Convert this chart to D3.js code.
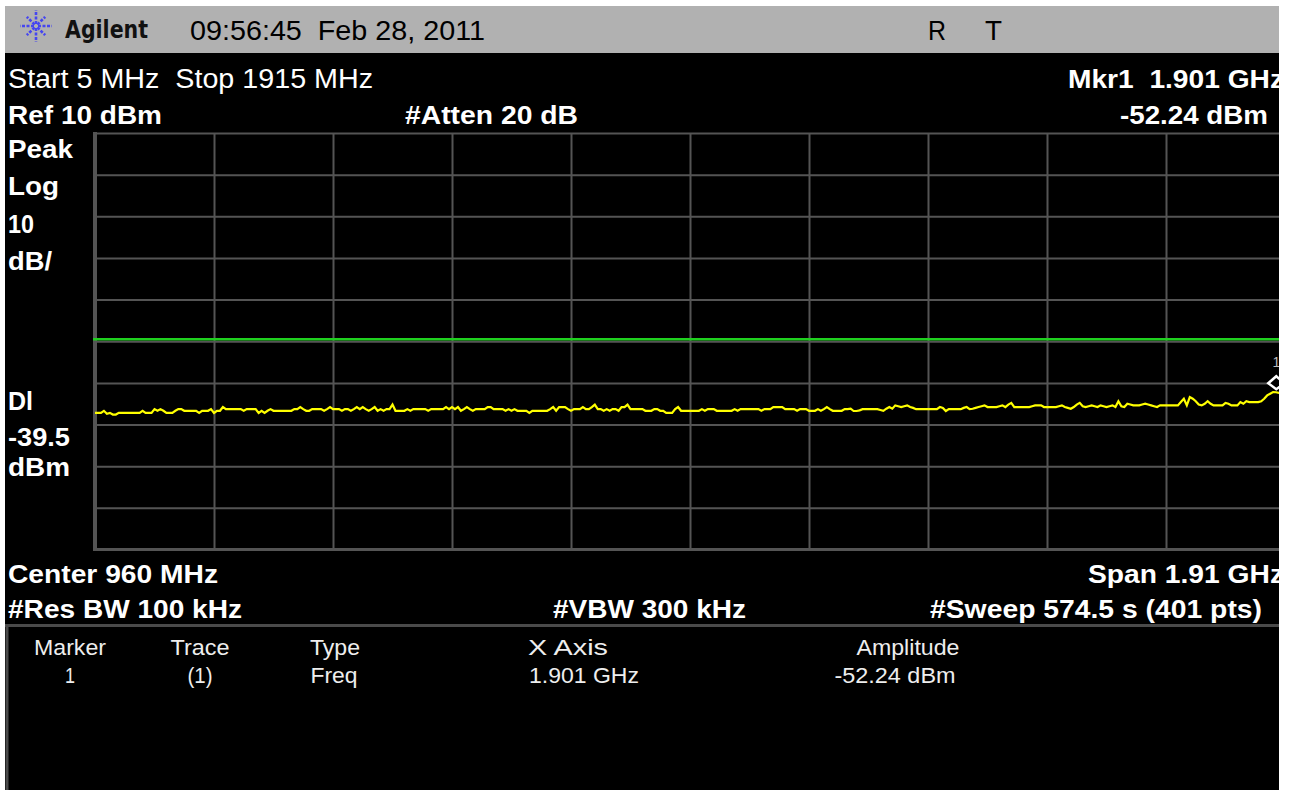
<!DOCTYPE html>
<html>
<head>
<meta charset="utf-8">
<script src="https://cdn.jsdelivr.net/npm/d3@7"></script>
<style>
  html, body { margin: 0; padding: 0; background: #ffffff; }
  svg { display: block; }
  text { white-space: pre; }
</style>
</head>
<body>
<svg id="chart" width="1289" height="790"></svg>
<script>
// ---------------- data ----------------
const startMHz = 5;
const stopMHz = 1915;
const sweepPoints = 401;
const refLevelDbm = 10;
const dbPerDiv = 10;
const yDivisions = 10;
const xDivisions = 10;
const displayLineDbm = -39.5;
const markerFreqMHz = 1901;
const markerDbm = -52.24;

// trace amplitude (dBm) at each of the 401 sweep points
const traceDbm = [
  -57.2,-57.2,-57.2,-56.7,-57.4,-57.2,-57.6,-57.6,-57.2,-57.2,
  -57.2,-57.2,-57.2,-57.2,-57.2,-57.2,-56.7,-57.2,-57.2,-57.2,
  -56.3,-56.7,-56.3,-56.7,-57.2,-57.2,-57.2,-56.7,-56.3,-56.3,
  -56.7,-56.7,-56.7,-56.7,-56.7,-57.2,-56.7,-56.7,-56.7,-56.3,
  -57.2,-56.7,-56.7,-55.8,-56.3,-56.3,-56.3,-56.3,-56.3,-56.3,
  -56.7,-56.3,-56.3,-56.3,-56.3,-57.2,-56.7,-57.2,-56.7,-56.3,
  -56.7,-56.7,-56.7,-56.7,-56.7,-56.7,-56.7,-56.3,-56.3,-55.8,
  -56.3,-56.7,-56.7,-56.3,-56.3,-56.3,-56.3,-56.7,-56.3,-55.8,
  -56.3,-56.3,-56.3,-56.7,-56.3,-56.3,-56.7,-56.3,-55.8,-56.3,
  -55.8,-56.3,-56.7,-56.3,-55.8,-56.7,-56.3,-56.7,-56.3,-56.3,
  -55.2,-56.7,-56.7,-56.7,-56.7,-56.3,-56.7,-56.3,-56.3,-56.3,
  -56.3,-56.3,-56.7,-56.3,-56.3,-56.3,-56.3,-56.3,-55.8,-56.3,
  -55.8,-56.3,-55.8,-56.7,-56.3,-55.8,-56.3,-56.7,-56.3,-56.3,
  -56.3,-56.3,-55.8,-55.8,-56.3,-56.3,-56.3,-56.3,-56.7,-56.3,
  -56.7,-56.3,-56.7,-56.7,-56.7,-56.7,-57.2,-56.7,-56.7,-56.7,
  -56.7,-56.7,-56.7,-56.3,-55.8,-56.7,-55.8,-55.8,-55.8,-56.3,
  -56.7,-56.3,-56.3,-56.3,-55.8,-56.3,-56.3,-55.8,-55.2,-56.3,
  -56.3,-56.7,-56.3,-56.7,-56.3,-56.3,-56.7,-55.8,-55.8,-55.2,
  -56.3,-56.3,-56.3,-56.3,-56.3,-56.7,-56.7,-56.7,-56.3,-56.3,
  -56.7,-56.7,-57.2,-57.2,-57.2,-56.3,-55.8,-56.7,-56.7,-56.7,
  -56.7,-56.7,-56.7,-56.7,-56.3,-56.7,-56.3,-56.3,-56.3,-56.7,
  -56.7,-56.7,-56.7,-56.7,-56.7,-56.3,-56.7,-56.3,-56.3,-56.3,
  -56.3,-56.3,-56.3,-56.3,-56.7,-56.3,-56.3,-56.3,-55.8,-55.8,
  -55.8,-55.8,-56.3,-56.3,-56.3,-56.3,-56.7,-56.3,-56.3,-56.3,
  -56.7,-56.7,-56.7,-56.3,-56.7,-56.3,-55.8,-56.3,-56.7,-56.7,
  -56.7,-56.7,-56.3,-56.3,
  -56.2,-56.75,-56.75,-56.6,-56.3,-56.3,-56.3,-56.3,-56.3,-56.3,
  -56.5,-56.7,-56.2,-55.8,-56.2,-55.4,-55.6,-55.8,-55.6,-55.4,
  -55.8,-56.0,-56.3,-56.3,-56.3,-56.3,-56.3,-56.3,-56.3,-56.3,
  -55.8,-56.0,-56.75,-56.3,-56.3,-56.3,-56.3,-56.3,-56.0,-55.8,
  -56.3,-56.2,-56.0,-55.8,-55.6,-55.4,-55.8,-55.8,-55.8,-55.8,
  -55.6,-55.4,-55.8,-55.2,-54.8,-55.8,-55.8,-55.8,-55.8,-55.8,
  -55.8,-55.6,-55.4,-55.4,-55.4,-55.8,-55.8,-55.8,-55.8,-55.8,
  -55.6,-55.4,-55.8,-56.0,-56.2,-55.8,-55.2,-54.8,-55.6,-55.8,
  -55.6,-55.4,-55.6,-55.8,-55.4,-55.6,-55.8,-55.6,-55.4,-55.8,
  -54.4,-55.6,-55.8,-55.0,-55.2,-55.4,-55.4,-55.4,-55.2,-55.0,
  -55.2,-55.4,-55.6,-55.8,-55.4,-55.4,-55.4,-55.4,-55.4,-55.4,
  -55.4,-54.6,-53.8,-55.4,-53.4,-53.8,-54.4,-55.2,-55.4,-55.0,
  -54.4,-55.0,-55.4,-55.4,-55.4,-55.4,-54.8,-55.0,-55.4,-55.4,
  -55.4,-54.6,-55.0,-54.4,-54.6,-54.6,-54.6,-54.6,-54.4,-53.8,
  -53.0,-52.6,-52.2,-52.24,-52.4,-52.6,-52.8
];

// annotation texts
const headerTime = "09:56:45  Feb 28, 2011";
const tableHeaders = ["Marker", "Trace", "Type", "X Axis", "Amplitude"];
const tableValues = ["1", "(1)", "Freq", "1.901 GHz", "-52.24 dBm"];

// ---------------- drawing ----------------
const svg = d3.select("#chart");
const W = 1289, H = 790;
const FONT = "'Liberation Sans', Arial, sans-serif";

svg.append("rect").attr("width", W).attr("height", H).attr("fill", "#ffffff");
svg.append("defs").append("clipPath").attr("id", "screen")
  .append("rect").attr("x", 5).attr("y", 6).attr("width", 1274).attr("height", 784);

const screen = svg.append("g").attr("clip-path", "url(#screen)");
screen.append("rect").attr("x", 5).attr("y", 6).attr("width", 1274).attr("height", 784).attr("fill", "#000");
screen.append("rect").attr("x", 5).attr("y", 6).attr("width", 1274).attr("height", 47).attr("fill", "#b1b1b1");

function label(g, o) {
  const t = g.append("text")
    .attr("x", o.x).attr("y", o.y)
    .attr("font-family", o.family || FONT)
    .attr("font-size", o.size)
    .attr("font-weight", o.weight || "normal")
    .attr("fill", o.fill || "#ffffff")
    .attr("text-anchor", o.anchor || "start")
    .text(o.text);
  if (o.width) t.attr("textLength", o.width).attr("lengthAdjust", "spacingAndGlyphs");
  return t;
}

// Agilent logo: starburst
const logo = screen.append("g").attr("transform", "translate(36,26)")
  .attr("stroke", "#4646f0").attr("stroke-width", 2.6).attr("stroke-dasharray", "3,1.5");
d3.range(8).forEach(k => {
  const a = k * Math.PI / 4;
  const r0 = 2, r1 = (k % 2 === 0) ? 16 : 13;
  logo.append("line")
    .attr("x1", r0 * Math.cos(a)).attr("y1", r0 * Math.sin(a))
    .attr("x2", r1 * Math.cos(a)).attr("y2", r1 * Math.sin(a));
});
label(screen, {x: 65, y: 38, text: "Agilent", size: 24, weight: "bold", fill: "#111", width: 83, family: "'DejaVu Sans', sans-serif"});
label(screen, {x: 190, y: 40, text: headerTime, size: 28, fill: "#000", width: 295});
label(screen, {x: 928, y: 40, text: "R", size: 28, fill: "#000", width: 18});
label(screen, {x: 985, y: 40, text: "T", size: 28, fill: "#000", width: 17});

// settings text
label(screen, {x: 8, y: 88, text: "Start 5 MHz  Stop 1915 MHz", size: 27, width: 365});
label(screen, {x: 1068, y: 88, text: "Mkr1  1.901 GHz", size: 25, weight: "bold", width: 216});
label(screen, {x: 8, y: 124, text: "Ref 10 dBm", size: 25, weight: "bold", width: 154});
label(screen, {x: 405, y: 124, text: "#Atten 20 dB", size: 25, weight: "bold", width: 173});
label(screen, {x: 1120, y: 124, text: "-52.24 dBm", size: 25, weight: "bold", width: 148});

label(screen, {x: 8, y: 158, text: "Peak", size: 25, weight: "bold", width: 65});
label(screen, {x: 8, y: 195, text: "Log", size: 25, weight: "bold", width: 51});
label(screen, {x: 8, y: 233, text: "10", size: 25, weight: "bold", width: 26});
label(screen, {x: 8, y: 270, text: "dB/", size: 25, weight: "bold", width: 44});
label(screen, {x: 8, y: 410, text: "Dl", size: 25, weight: "bold", width: 25});
label(screen, {x: 8, y: 446, text: "-39.5", size: 25, weight: "bold", width: 62});
label(screen, {x: 8, y: 476, text: "dBm", size: 25, weight: "bold", width: 62});

label(screen, {x: 8, y: 583, text: "Center 960 MHz", size: 25, weight: "bold", width: 210});
label(screen, {x: 1088, y: 583, text: "Span 1.91 GHz", size: 25, weight: "bold", width: 196});
label(screen, {x: 8, y: 618, text: "#Res BW 100 kHz", size: 25, weight: "bold", width: 234});
label(screen, {x: 553, y: 618, text: "#VBW 300 kHz", size: 25, weight: "bold", width: 193});
label(screen, {x: 930, y: 618, text: "#Sweep 574.5 s (401 pts)", size: 25, weight: "bold", width: 332});

// ---------------- plot ----------------
const plotL = 95, plotR = 1285, plotT = 133, plotB = 549.5;
const x = d3.scaleLinear().domain([startMHz, stopMHz]).range([plotL, plotR]);
const yBottom = refLevelDbm - dbPerDiv * yDivisions;
const y = d3.scaleLinear().domain([yBottom, refLevelDbm]).range([plotB, plotT]);

const xTicks = d3.range(xDivisions + 1).map(k => startMHz + k * (stopMHz - startMHz) / xDivisions);
const yTicks = d3.range(yDivisions + 1).map(k => refLevelDbm - k * dbPerDiv);

const gridColor = "#545454";
const gx = screen.append("g").attr("transform", `translate(0,${plotB})`)
  .call(d3.axisBottom(x).tickValues(xTicks).tickSize(-(plotB - plotT)).tickFormat(""));
gx.select(".domain").remove();
gx.selectAll(".tick line").attr("stroke", gridColor).attr("stroke-width", 2);

const gy = screen.append("g").attr("transform", `translate(${plotL},0)`)
  .call(d3.axisLeft(y).tickValues(yTicks).tickSize(-(plotR - plotL)).tickFormat(""));
gy.select(".domain").remove();
gy.selectAll(".tick line").attr("stroke", gridColor).attr("stroke-width", 2);

// thicker frame edges
screen.append("line").attr("x1", plotL).attr("x2", plotL).attr("y1", plotT - 1).attr("y2", plotB + 1.5)
  .attr("stroke", gridColor).attr("stroke-width", 4);
screen.append("line").attr("x1", plotL - 2).attr("x2", plotR).attr("y1", plotB).attr("y2", plotB)
  .attr("stroke", gridColor).attr("stroke-width", 3);

// display line
screen.append("line")
  .attr("x1", plotL - 2).attr("x2", plotR)
  .attr("y1", y(displayLineDbm)).attr("y2", y(displayLineDbm))
  .attr("stroke", "#1fd01f").attr("stroke-width", 2.5);

// trace
const step = (stopMHz - startMHz) / (sweepPoints - 1);
const tracePts = traceDbm.map((v, i) => ({f: startMHz + i * step, v}));
screen.append("path")
  .datum(tracePts)
  .attr("fill", "none")
  .attr("stroke", "#ffff00")
  .attr("stroke-width", 2.2)
  .attr("stroke-linejoin", "miter")
  .attr("d", d3.line().x(d => x(d.f)).y(d => y(d.v)));

// marker diamond
const mx = x(markerFreqMHz), my = y(markerDbm);
screen.append("path")
  .attr("d", `M${mx},${my - 16} L${mx + 8},${my - 9} L${mx},${my - 3} L${mx - 8},${my - 9} Z`)
  .attr("fill", "#000").attr("stroke", "#ffffff").attr("stroke-width", 2.5);
label(screen, {x: mx, y: my - 25, text: "1", size: 14, fill: "#bbbbbb", anchor: "middle"});

// ---------------- marker table ----------------
screen.append("line").attr("x1", 5).attr("x2", 1279).attr("y1", 625.5).attr("y2", 625.5)
  .attr("stroke", "#4a4a4a").attr("stroke-width", 3);
screen.append("line").attr("x1", 7).attr("x2", 7).attr("y1", 625).attr("y2", 790)
  .attr("stroke", "#4a4a4a").attr("stroke-width", 3);

const colCenters = [70, 200, 335, 568, 908];
const colWidths = [72, 59, 50, 80, 103];
const valCenters = [70, 200, 334, 584, 895];
const valWidths = [10, 25, 47, 110, 121];
tableHeaders.forEach((h, i) => label(screen, {x: colCenters[i], y: 655, text: h, size: 22, fill: "#eeeeee", anchor: "middle", width: colWidths[i]}));
tableValues.forEach((v, i) => label(screen, {x: valCenters[i], y: 683, text: v, size: 22, fill: "#eeeeee", anchor: "middle", width: valWidths[i]}));
</script>
</body>
</html>
